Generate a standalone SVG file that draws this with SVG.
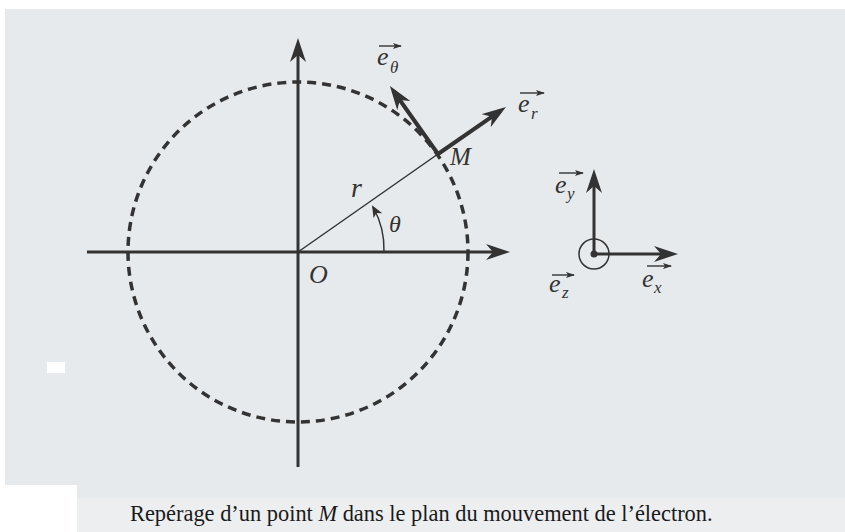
<svg xmlns="http://www.w3.org/2000/svg" width="845" height="532" viewBox="0 0 845 532">
  <style>
    .axis { stroke: #333; stroke-width: 3; fill: none; }
    .vec { stroke: #333; stroke-width: 4; fill: none; }
    .thin { stroke: #333; stroke-width: 1.5; fill: none; }
    .over { stroke: #333; stroke-width: 1.4; fill: none; }
    .lbl { font-family: "Liberation Serif", "Times New Roman", serif; font-style: italic; fill: #333; }
    .e { font-size: 26px; }
    .sub { font-size: 17px; }
    .cap { font-family: "Liberation Serif", "Times New Roman", serif; fill: #1a1a1a; font-size: 22.4px; }
  </style>
  <defs>
    <marker id="ah" viewBox="0 0 24 16" markerWidth="24" markerHeight="16" refX="18" refY="8" markerUnits="userSpaceOnUse" orient="auto">
      <path d="M0,0 L24,8 L0,16 L7,8 Z" fill="#333"/>
    </marker>
    <marker id="ahs" viewBox="0 0 12 10" markerWidth="12" markerHeight="10" refX="10" refY="5" markerUnits="userSpaceOnUse" orient="auto">
      <path d="M0,0 L12,5 L0,10 L3,5 Z" fill="#333"/>
    </marker>
    <marker id="ov" viewBox="0 0 9 6" markerWidth="9" markerHeight="6" refX="8" refY="3" markerUnits="userSpaceOnUse" orient="auto">
      <path d="M0,0 L9,3 L0,6 L2,3 Z" fill="#333"/>
    </marker>
  </defs>

  <rect x="0" y="0" width="845" height="532" fill="#ffffff"/>
  <rect x="5" y="9" width="840" height="523" fill="#e7eaed"/>
  <rect x="5" y="498" width="840" height="34" fill="#eceef0"/>
  <rect x="0" y="485" width="77" height="47" fill="#ffffff"/>
  <rect x="47" y="362" width="18" height="11" fill="#ffffff"/>

  <g id="circle">
    <circle cx="298" cy="252" r="170" fill="none" stroke="#333" stroke-width="3.5" stroke-dasharray="9 6"/>
  </g>

  <g id="connectors">
    <line class="axis" x1="87" y1="252" x2="504" y2="252" marker-end="url(#ah)"/>
    <line class="axis" x1="298" y1="467" x2="298" y2="44" marker-end="url(#ah)"/>
    <line class="thin" x1="298" y1="252" x2="438" y2="154"/>
    <path class="thin" d="M384,252 A86,86 0 0 0 373,207" marker-end="url(#ahs)"/>
    <line class="vec" x1="438" y1="154" x2="501" y2="110.4" marker-end="url(#ah)"/>
    <line class="vec" x1="438" y1="154" x2="393.4" y2="91" marker-end="url(#ah)"/>
    <line class="axis" x1="594" y1="254" x2="594" y2="175" marker-end="url(#ah)"/>
    <line class="axis" x1="594" y1="254" x2="672" y2="254" marker-end="url(#ah)"/>
  </g>

  <g id="origin-O">
    <text class="lbl" x="309" y="283" font-size="26">O</text>
  </g>
  <g id="point-M">
    <text class="lbl" x="450" y="165" font-size="25">M</text>
  </g>
  <g id="label-r">
    <text class="lbl" x="351" y="197" font-size="28">r</text>
  </g>
  <g id="label-theta">
    <text class="lbl" x="389" y="232" font-size="24">θ</text>
  </g>
  <g id="vec-etheta">
    <line class="over" x1="379" y1="46" x2="401" y2="46" marker-end="url(#ov)"/>
    <text class="lbl e" x="377" y="65">e</text>
    <text class="lbl sub" x="390" y="73">θ</text>
  </g>
  <g id="vec-er">
    <line class="over" x1="520" y1="93" x2="544" y2="93" marker-end="url(#ov)"/>
    <text class="lbl e" x="518" y="112">e</text>
    <text class="lbl sub" x="531" y="119">r</text>
  </g>
  <g id="frame-origin">
    <circle cx="594" cy="254" r="15" fill="none" stroke="#333" stroke-width="1.5"/>
    <circle cx="594" cy="254" r="3.5" fill="#333"/>
  </g>
  <g id="vec-ey">
    <line class="over" x1="559" y1="173" x2="583" y2="173" marker-end="url(#ov)"/>
    <text class="lbl e" x="555" y="193">e</text>
    <text class="lbl sub" x="567" y="199">y</text>
  </g>
  <g id="vec-ez">
    <line class="over" x1="552" y1="275" x2="574" y2="275" marker-end="url(#ov)"/>
    <text class="lbl e" x="549" y="292">e</text>
    <text class="lbl sub" x="562" y="298">z</text>
  </g>
  <g id="vec-ex">
    <line class="over" x1="647" y1="266" x2="671" y2="266" marker-end="url(#ov)"/>
    <text class="lbl e" x="642" y="287">e</text>
    <text class="lbl sub" x="654" y="293">x</text>
  </g>

  <g id="caption">
    <text class="cap" x="130" y="521">Repérage d’un point <tspan font-style="italic">M</tspan> dans le plan du mouvement de l’électron.</text>
  </g>
</svg>
